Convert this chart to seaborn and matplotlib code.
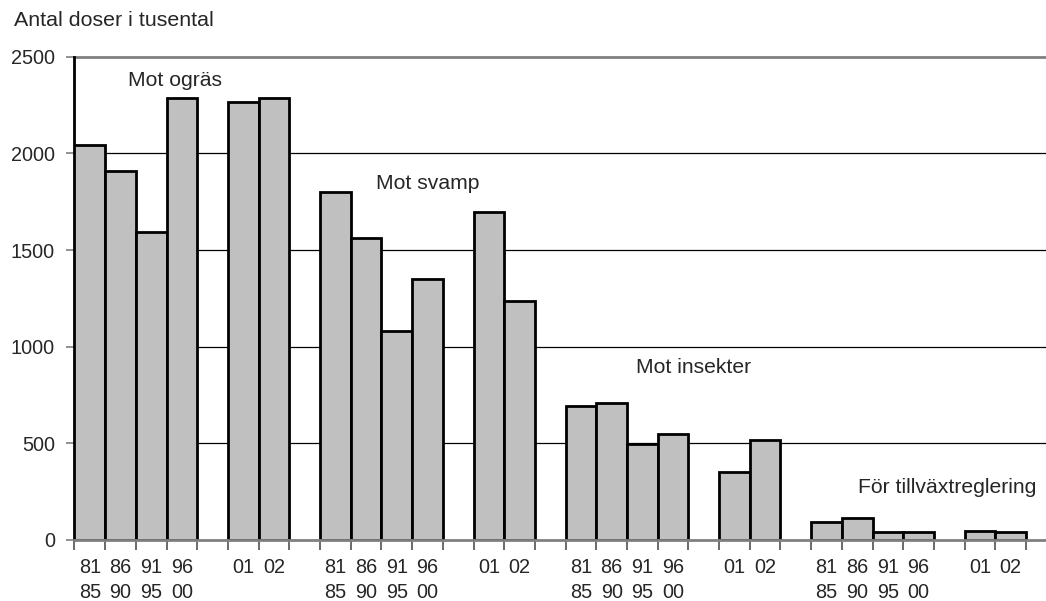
import numpy as np
import pandas as pd
import matplotlib
matplotlib.use("Agg")
import matplotlib.pyplot as plt
import seaborn as sns

# Doses sold (thousands) per purpose and period
periods = ["81\n85", "86\n90", "91\n95", "96\n00", "01", "02"]
purposes = ["Mot ogräs", "Mot svamp", "Mot insekter", "För tillväxtreglering"]
weeds = [2045, 1910, 1593, 2287, 2263, 2287]
fungi = [1801, 1560, 1081, 1350, 1694, 1236]
insects = [694, 707, 495, 548, 350, 519]
growth = [95, 112, 43, 41, 47, 41]
series = [weeds, fungi, insects, growth]

# Slot layout: four period-averages, a gap, two single years, a gap
period_offsets = [0, 1, 2, 3, 5, 6]
group_step = 8

rows = []
for g, (name, vals) in enumerate(zip(purposes, series)):
    for off, per, v in zip(period_offsets, periods, vals):
        rows.append({"pos": g * group_step + off, "period": per,
                     "purpose": name, "value": v})
df = pd.DataFrame(rows)

sns.set_theme(style="white")
plt.rcParams["font.family"] = ["Liberation Sans", "DejaVu Sans"]

fig = plt.figure(figsize=(10.46, 6.01), dpi=100)
ax = fig.add_axes([0.0712, 0.1015, 0.9288, 0.8042])

sns.barplot(data=df, x="pos", y="value", native_scale=True, width=1.0,
            color="#c0c0c0", saturation=1, edgecolor="black", linewidth=2,
            ax=ax, zorder=3)

ax.set_xlim(-0.5, 31.15)
ax.set_ylim(0, 2500)

# Horizontal grid
for yv in [500, 1000, 1500, 2000]:
    ax.axhline(yv, color="black", lw=0.9, zorder=1)
ax.axhline(2500, color="#808080", lw=2, zorder=1, clip_on=False)

for s in ["top", "right"]:
    ax.spines[s].set_visible(False)
ax.spines["left"].set_color("black")
ax.spines["left"].set_linewidth(2)
ax.spines["bottom"].set_color("#808080")
ax.spines["bottom"].set_linewidth(2)
ax.spines["bottom"].set_zorder(4)

ax.set_yticks([0, 500, 1000, 1500, 2000, 2500])
ax.set_yticklabels(["0", "500", "1000", "1500", "2000", "2500"], fontsize=14.3)
ax.tick_params(axis="y", length=6, width=1.2, color="#808080", pad=8, left=True)

# Category labels under each bar, slot boundary ticks
ax.set_xticks(df["pos"].to_numpy())
ax.set_xticklabels(df["period"].tolist(), fontsize=14.3, linespacing=1.4,
                   va="top")
ax.tick_params(axis="x", which="major", length=0, pad=13)
ax.set_xticks(np.arange(-0.5, 31.0, 1.0), minor=True)
ax.tick_params(axis="x", which="minor", length=7, width=1.2, color="#505050",
               bottom=True)

ax.set_xlabel("")
ax.set_ylabel("")

# Group captions
caption_pos = [(2.77, 2378), (11.01, 1846), (19.68, 894), (27.92, 274)]
for name, (cx, cy) in zip(purposes, caption_pos):
    ax.text(cx, cy, name, ha="center", va="center", fontsize=15.2, zorder=5)

fig.text(14 / 1046, 1 - 21 / 601, "Antal doser i tusental", ha="left",
         va="center", fontsize=15.4)

fig.savefig("out.png", dpi=100)
